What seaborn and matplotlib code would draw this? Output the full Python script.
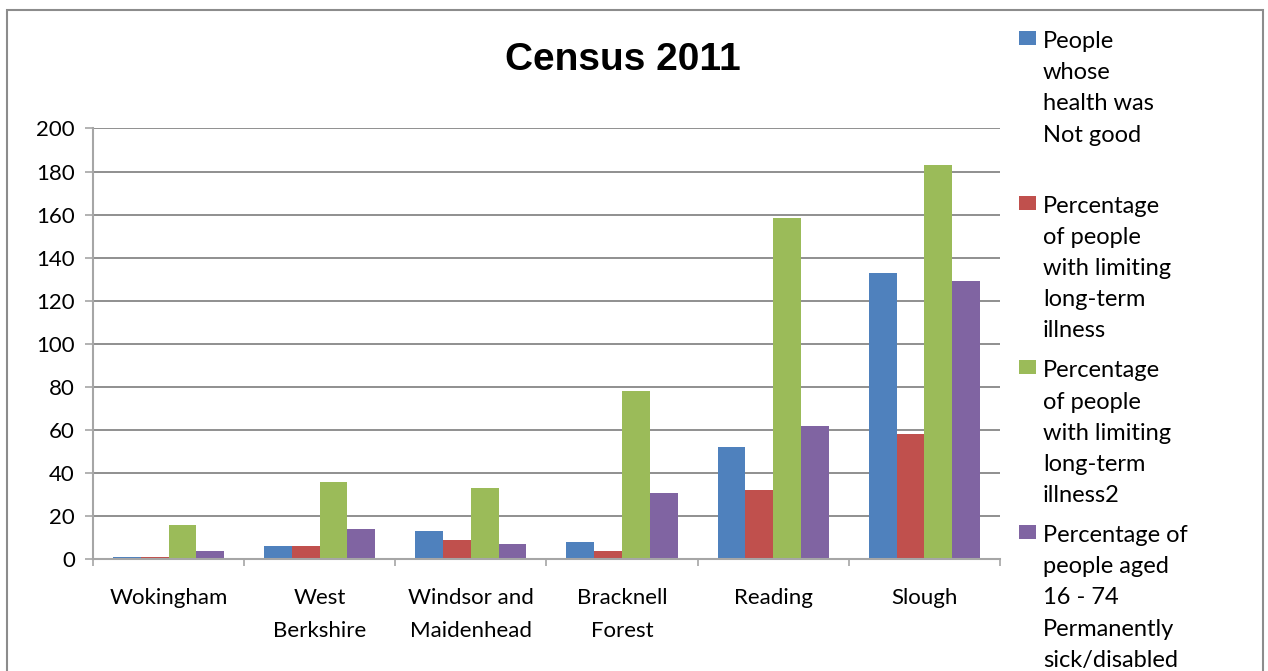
# Census 2011 - grouped bar chart (Berkshire districts)

import pandas as pd
import matplotlib.pyplot as plt
import seaborn as sns
from matplotlib.patches import Rectangle

# =====================================================
# DATA
# =====================================================

districts = ["Wokingham", "West Berkshire", "Windsor and Maidenhead",
             "Bracknell Forest", "Reading", "Slough"]
district_labels = ["Wokingham", "West\nBerkshire", "Windsor and\nMaidenhead",
                   "Bracknell\nForest", "Reading", "Slough"]

series_names = [
    "People whose health was Not good",
    "Percentage of people with limiting long-term illness",
    "Percentage of people with limiting long-term illness2",
    "Percentage of people aged 16 - 74 Permanently sick/disabled",
]
legend_labels = [
    "People\nwhose\nhealth was\nNot good\n",
    "Percentage\nof people\nwith limiting\nlong-term\nillness",
    "Percentage\nof people\nwith limiting\nlong-term\nillness2",
    "Percentage of\npeople aged\n16 - 74\nPermanently\nsick/disabled",
]

health_not_good = [1, 6, 13, 8, 52, 133]
limiting_illness = [1, 6, 9, 4, 32, 58]
limiting_illness2 = [16, 36, 33, 78, 158.5, 183]
sick_disabled = [4, 14, 7, 31, 62, 129]

colors = ["#4F81BD", "#C0504D", "#9BBB59", "#8064A2"]

rows = []
for name, vals in zip(series_names,
                      [health_not_good, limiting_illness, limiting_illness2, sick_disabled]):
    for d, v in zip(districts, vals):
        rows.append({"District": d, "Series": name, "Value": v})
df = pd.DataFrame(rows)

# =====================================================
# STYLE
# =====================================================

sns.set_style("white")
plt.rcParams["font.family"] = ["Lato", "DejaVu Sans"]
plt.rcParams["text.color"] = "black"
plt.rcParams["xtick.color"] = "black"
plt.rcParams["ytick.color"] = "black"

fig = plt.figure(figsize=(12.68, 6.71), dpi=100)
ax = fig.add_axes([0.0733, 0.1665, 0.7153, 0.642])

sns.barplot(
    data=df,
    x="District",
    y="Value",
    hue="Series",
    order=districts,
    hue_order=series_names,
    palette=colors,
    saturation=1,
    width=0.735,
    gap=0,
    linewidth=0,
    ax=ax,
)

handles, _ = ax.get_legend_handles_labels()
ax.get_legend().remove()

ax.set_ylim(0, 200)
ax.set_yticks(range(0, 201, 20))
ax.set_xlim(-0.5, len(districts) - 0.5)
ax.set_xticks(range(len(districts)))
ax.set_xticklabels(district_labels)
ax.set_xticks([i + 0.5 for i in range(-1, len(districts))], minor=True)
ax.set_xlabel("")
ax.set_ylabel("")

ax.yaxis.grid(True, color="#878787", linewidth=1.3)
ax.set_axisbelow(True)

for side in ["top", "right"]:
    ax.spines[side].set_visible(False)
for side in ["left", "bottom"]:
    ax.spines[side].set_color("#A6A6A6")
    ax.spines[side].set_linewidth(1.5)

ax.tick_params(axis="x", which="major", length=0, pad=21, labelsize=16)
ax.tick_params(axis="x", which="minor", length=5, width=1.2, color="#A6A6A6",
               direction="out", bottom=True)
ax.tick_params(axis="y", length=6, width=1.2, color="#A6A6A6", direction="out",
               left=True, pad=7, labelsize=16)
for lbl in ax.get_xticklabels():
    lbl.set_linespacing(1.8)

fig.text(0.491, 0.911, "Census 2011", ha="center", va="center",
         fontsize=28, fontweight="bold", family=["Liberation Sans", "DejaVu Sans"])

leg = fig.legend(
    handles, legend_labels,
    loc="upper left",
    bbox_to_anchor=(1019 / 1268, 1 - 31 / 671),
    frameon=False,
    fontsize=17,
    handlelength=0.72,
    handleheight=0.53,
    handletextpad=0.3,
    labelspacing=0.8,
    borderaxespad=0,
    borderpad=0,
)
for t in leg.get_texts():
    t.set_linespacing(1.6)
for col in leg._legend_handle_box.get_children():
    for hp in col.get_children():
        hp.align = "top"

# chart border
fig.add_artist(Rectangle((7 / 1268, -0.05), (1263 - 7) / 1268, 1.05 - 10 / 671,
                         transform=fig.transFigure, fill=False,
                         edgecolor="#8C8C8C", linewidth=1.5))

fig.savefig("out.png", dpi=100)
